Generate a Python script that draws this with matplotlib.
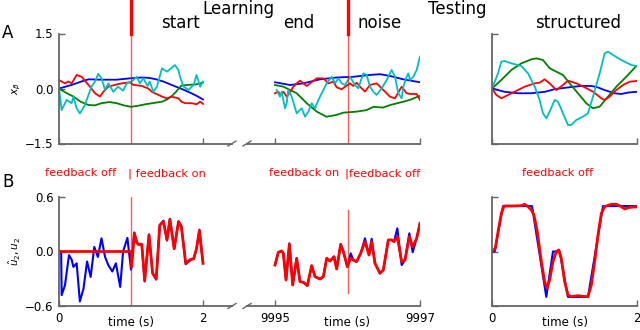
import numpy as np
import matplotlib
matplotlib.use("Agg")
import matplotlib.pyplot as plt
from matplotlib.lines import Line2D

plt.rcParams['font.family'] = ['DejaVu Sans']
plt.rcParams['mathtext.fontset'] = 'dejavusans'

# ---------------- DATA ----------------
# Panel A, left (learning start), time 0..2 s
tA1_blue = [0, 0.18, 0.31, 0.41, 0.6, 0.8, 1.0, 1.15, 1.25, 1.35, 1.45, 1.56, 1.65, 1.75, 1.85, 1.93, 2.0]
vA1_blue = [0, 0.10, 0.19, 0.25, 0.24, 0.24, 0.28, 0.30, 0.29, 0.25, 0.19, 0.10, 0.03, -0.05, -0.14, -0.22, -0.30]
tA1_green = [0, 0.1, 0.2, 0.3, 0.41, 0.5, 0.59, 0.7, 0.8, 0.9, 1.0, 1.1, 1.2, 1.33, 1.43, 1.5, 1.56, 1.63, 1.70, 1.8, 1.9, 2.0]
vA1_green = [0, -0.12, -0.22, -0.36, -0.45, -0.46, -0.40, -0.37, -0.40, -0.46, -0.50, -0.47, -0.43, -0.39, -0.36, -0.30, -0.22, -0.08, 0.08, 0.10, 0.11, 0.16]
tA1_red = [0, 0.083, 0.13, 0.176, 0.245, 0.315, 0.36, 0.43, 0.5, 0.57, 0.616, 0.685, 0.78, 0.87, 0.986, 1.03, 1.15,
           1.24, 1.29, 1.33, 1.43, 1.5, 1.56, 1.66, 1.70, 1.75, 1.84, 1.91, 1.96, 2.0]
vA1_red = [0.23, 0.14, 0.19, 0.14, 0.37, 0.32, 0.21, 0.05, -0.13, -0.22, -0.09, 0.05, 0.10, 0.14, 0.17, 0.10, 0.07,
           0.0, -0.09, -0.13, -0.22, -0.27, -0.22, -0.27, -0.36, -0.40, -0.40, -0.43, -0.36, -0.42]
tA1_cyan = [0, 0.037, 0.106, 0.176, 0.2, 0.245, 0.29, 0.36, 0.45, 0.5, 0.546, 0.59, 0.64, 0.685, 0.755, 0.82, 0.89,
            0.94, 1.01, 1.08, 1.125, 1.17, 1.23, 1.26, 1.31, 1.36, 1.43, 1.5, 1.54, 1.61, 1.66, 1.68, 1.73, 1.8,
            1.87, 1.91, 1.96, 2.0]
vA1_cyan = [0.0, -0.59, -0.31, -0.40, -0.22, -0.54, -0.68, -0.45, 0.05, 0.19, 0.40, 0.28, -0.04, 0.14, -0.09, 0.05,
            -0.06, 0.14, 0.19, 0.32, 0.14, 0.28, 0.07, 0.19, -0.09, 0.05, 0.55, 0.46, 0.52, 0.64, 0.50, 0.32, 0.05,
            -0.04, 0.10, 0.37, 0.05, 0.19]

# Panel A, middle (learning end), time 9995..9997 s
tA2_blue = [9995.0, 9995.21, 9995.39, 9995.62, 9995.85, 9996.08, 9996.31, 9996.45, 9996.59, 9996.77, 9997.0]
vA2_blue = [0.17, 0.095, 0.14, 0.25, 0.30, 0.32, 0.37, 0.39, 0.34, 0.25, 0.17]
tA2_green = [9995.0, 9995.115, 9995.3, 9995.437, 9995.575, 9995.71, 9995.85, 9995.94, 9996.13, 9996.26, 9996.36,
             9996.49, 9996.59, 9996.77, 9996.86, 9997.0]
vA2_green = [0.095, 0.05, -0.13, -0.40, -0.63, -0.77, -0.72, -0.66, -0.63, -0.59, -0.50, -0.52, -0.45, -0.36, -0.31, -0.20]
tA2_red = [9995.0, 9995.046, 9995.069, 9995.115, 9995.161, 9995.198, 9995.253, 9995.299, 9995.345, 9995.391,
           9995.437, 9995.483, 9995.575, 9995.667, 9995.736, 9995.805, 9995.851, 9995.92, 9995.966, 9996.034,
           9996.08, 9996.126, 9996.172, 9996.241, 9996.31, 9996.402, 9996.448, 9996.517, 9996.586, 9996.655,
           9996.747, 9996.816, 9996.862, 9996.954, 9997.0]
vA2_red = [-0.13, -0.086, -0.177, -0.086, -0.223, -0.13, 0.05, 0.14, 0.213, 0.14, 0.068, 0.14, 0.277, 0.277, 0.14,
           0.186, 0.032, -0.023, 0.05, 0.14, 0.068, 0.159, 0.05, -0.086, 0.095, 0.14, 0.05, -0.086, -0.223, -0.268,
           0.05, -0.13, -0.15, -0.15, -0.313]
tA2_cyan = [9995.023, 9995.069, 9995.092, 9995.138, 9995.161, 9995.184, 9995.23, 9995.299, 9995.368, 9995.414,
            9995.46, 9995.506, 9995.552, 9995.598, 9995.667, 9995.713, 9995.782, 9995.828, 9995.874, 9995.92,
            9995.966, 9996.034, 9996.103, 9996.149, 9996.172, 9996.218, 9996.264, 9996.31, 9996.356, 9996.402,
            9996.471, 9996.54, 9996.609, 9996.655, 9996.701, 9996.747, 9996.77, 9996.816, 9996.839, 9996.862,
            9996.908, 9996.954, 9997.0]
vA2_cyan = [-0.041, -0.223, -0.086, -0.54, -0.404, -0.041, -0.223, -0.677, -0.54, -0.767, -0.631, -0.404, -0.54,
            -0.313, -0.041, 0.141, 0.322, 0.141, 0.277, 0.141, 0.095, 0.322, 0.095, 0.005, 0.141, 0.413, 0.368,
            0.05, -0.086, -0.177, 0.005, 0.232, 0.504, 0.322, -0.132, -0.268, 0.05, 0.322, 0.413, 0.232, 0.322,
            0.504, 0.867]

# Panel A, right (testing, structured), time 0..2 s
tA3_blue = [0, 0.175, 0.36, 0.54, 0.73, 0.86, 1.05, 1.23, 1.37, 1.46, 1.55, 1.69, 1.78, 1.88, 2.0]
vA3_blue = [0, -0.09, -0.13, -0.13, -0.09, -0.02, 0.03, 0.07, 0.07, 0.03, -0.04, -0.13, -0.15, -0.11, -0.09]
tA3_green = [0, 0.129, 0.267, 0.405, 0.543, 0.611, 0.703, 0.795, 0.887, 0.979, 1.071, 1.186, 1.301, 1.393, 1.485,
             1.6, 1.715, 1.853, 1.991]
vA3_green = [0, 0.232, 0.504, 0.686, 0.795, 0.822, 0.777, 0.554, 0.459, 0.368, 0.141, -0.132, -0.404, -0.54,
             -0.495, -0.222, 0.05, 0.322, 0.613]
tA3_cyan = [0, 0.083, 0.129, 0.175, 0.267, 0.405, 0.497, 0.589, 0.657, 0.703, 0.749, 0.795, 0.864, 0.91, 0.979,
            1.048, 1.094, 1.163, 1.255, 1.324, 1.393, 1.485, 1.554, 1.6, 1.669, 1.784, 1.922, 1.991]
vA3_cyan = [0, 0.413, 0.731, 0.749, 0.686, 0.613, 0.413, 0.05, -0.313, -0.677, -0.812, -0.631, -0.313, -0.359,
            -0.677, -0.995, -0.995, -0.858, -0.767, -0.677, -0.222, 0.413, 0.958, 1.004, 0.913, 0.777, 0.64, 0.613]
tA3_red = [0, 0.06, 0.129, 0.221, 0.359, 0.451, 0.589, 0.657, 0.726, 0.795, 0.887, 0.979, 1.048, 1.163, 1.278,
           1.393, 1.508, 1.554, 1.623, 1.715, 1.807, 1.899, 1.991]
vA3_red = [0, -0.177, -0.268, -0.177, -0.041, 0.05, 0.141, 0.159, 0.25, 0.141, -0.041, 0.095, 0.214, 0.141, 0.032,
           -0.086, -0.268, -0.313, -0.222, -0.041, 0.095, 0.186, 0.204]

# Panel B, left: readout (blue) and feedback output (red)
tB1_blue = [0.03, 0.037, 0.083, 0.139, 0.176, 0.2, 0.245, 0.29, 0.34, 0.39, 0.44, 0.49, 0.54, 0.59, 0.64, 0.685,
            0.74, 0.79, 0.85, 0.89, 0.95, 1.0, 1.046, 1.08, 1.10, 1.15, 1.19, 1.25, 1.30, 1.35, 1.40, 1.45, 1.50,
            1.54, 1.60, 1.66, 1.70, 1.76, 1.82, 1.87, 1.91, 1.95, 2.0]
vB1_blue = [0, -0.48, -0.37, -0.04, -0.09, -0.17, -0.13, -0.55, -0.41, -0.11, -0.28, 0.05, -0.06, 0.145, -0.06,
            -0.15, -0.22, -0.13, -0.39, 0.0, 0.15, -0.2, 0.21, 0.1, 0.08, 0.07, -0.33, 0.19, -0.24, -0.31, 0.29,
            0.34, 0.12, 0.36, 0.03, 0.33, 0.28, -0.14, -0.10, -0.08, 0.03, 0.24, -0.13]
tB1_red = [0, 1.0, 1.01, 1.046, 1.08, 1.10, 1.15, 1.19, 1.25, 1.30, 1.35, 1.40, 1.45, 1.50, 1.54, 1.60, 1.66, 1.70,
           1.76, 1.82, 1.87, 1.91, 1.95, 2.0]
vB1_red = [0, 0, -0.17, 0.2, 0.1, 0.08, 0.08, -0.32, 0.18, -0.24, -0.30, 0.29, 0.33, 0.13, 0.35, 0.03, 0.33, 0.27,
           -0.13, -0.09, -0.08, 0.03, 0.23, -0.13]

# Panel B, middle
tB2 = [9995.0, 9995.046, 9995.092, 9995.115, 9995.152, 9995.198, 9995.244, 9995.299, 9995.345, 9995.391, 9995.446,
       9995.506, 9995.552, 9995.621, 9995.667, 9995.713, 9995.759, 9995.814, 9995.851, 9995.906, 9995.943,
       9995.998, 9996.044, 9996.08, 9996.126, 9996.182, 9996.241, 9996.297, 9996.333, 9996.379, 9996.448,
       9996.494, 9996.563, 9996.609, 9996.641, 9996.687, 9996.747, 9996.793, 9996.853, 9996.899, 9996.954, 9997.0]
vB2_red = [-0.149, -0.009, 0.006, -0.02, -0.314, 0.079, -0.369, -0.075, -0.332, -0.339, -0.376, -0.156, -0.277,
           -0.303, -0.277, -0.075, -0.105, -0.057, -0.193, 0.079, -0.002, -0.167, -0.075, -0.094, -0.112, -0.02,
           0.108, -0.039, 0.108, -0.13, -0.24, -0.204, 0.127, 0.127, 0.108, 0.163, -0.112, -0.094, 0.163, 0.053,
           0.145, 0.31]
vB2_blue = [-0.149, -0.009, 0.006, -0.02, -0.314, 0.09, -0.369, -0.075, -0.332, -0.339, -0.376, -0.156, -0.277,
            -0.303, -0.277, -0.075, -0.105, -0.057, -0.193, 0.079, -0.002, -0.167, -0.02, -0.094, -0.112, -0.02,
            0.145, -0.039, 0.14, -0.13, -0.24, -0.204, 0.127, 0.127, 0.108, 0.255, -0.149, -0.094, 0.2, -0.009,
            0.145, 0.31]

# Panel B, right (structured target)
tB3_blue = [0, 0.037, 0.152, 0.552, 0.749, 0.841, 0.933, 1.048, 1.324, 1.531, 2.0]
vB3_blue = [0, 0, 0.5, 0.5, -0.5, 0, 0, -0.5, -0.5, 0.5, 0.5]
tB3_red = [0, 0.046, 0.083, 0.129, 0.166, 0.267, 0.405, 0.451, 0.497, 0.543, 0.579, 0.625, 0.681, 0.726, 0.759,
           0.795, 0.841, 0.887, 0.92, 0.956, 1.002, 1.048, 1.094, 1.186, 1.255, 1.324, 1.37, 1.416, 1.462, 1.508,
           1.554, 1.646, 1.715, 1.784, 1.83, 1.876, 1.945, 2.0]
vB3_red = [0, 0.035, 0.217, 0.42, 0.501, 0.501, 0.505, 0.52, 0.494, 0.457, 0.402, 0.217, -0.112, -0.332, -0.404,
           -0.314, -0.112, -0.002, 0.017, -0.075, -0.332, -0.479, -0.497, -0.486, -0.494, -0.497, -0.369, -0.112,
           0.182, 0.42, 0.494, 0.52, 0.52, 0.494, 0.468, 0.482, 0.49, 0.49]

# Ticks / labels
yticks_A = [-1.5, 0.0, 1.5]
yticks_B = [-0.6, 0.0, 0.6]
xticks_left = [0, 2]
xticks_mid = [9995, 9997]
xticks_right = [0, 2]

# ---------------- FIGURE ----------------
W, H = 640, 330
fig = plt.figure(figsize=(6.4, 3.3), dpi=100)


def rect(x0, x1, ytop, ybot):
    return [x0 / W, 1 - ybot / H, (x1 - x0) / W, (ybot - ytop) / H]


def fx(x):
    return x / W


def fy(y):
    return 1 - y / H


SPC = '0.4'


def style(ax, left=True):
    for s in ['top', 'right']:
        ax.spines[s].set_visible(False)
    ax.spines['bottom'].set_color(SPC)
    ax.spines['bottom'].set_linewidth(1.3)
    if left:
        ax.spines['left'].set_color(SPC)
        ax.spines['left'].set_linewidth(1.3)
    else:
        ax.spines['left'].set_visible(False)
        ax.tick_params(axis='y', left=False, labelleft=False)
    ax.tick_params(direction='in', length=4, width=1, color=SPC, labelsize=8.5, pad=4)
    ax.patch.set_alpha(0)


xl0, xl1 = 59, 232
xm0, xm1 = 247, 420
xr0, xr1 = 492, 637
yA0, yA1 = 33.5, 143.5
yB0, yB1 = 197, 306

axA1 = fig.add_axes(rect(xl0, xl1, yA0, yA1))
axA2 = fig.add_axes(rect(xm0, xm1, yA0, yA1))
axA3 = fig.add_axes(rect(xr0, xr1, yA0, yA1))
axB1 = fig.add_axes(rect(xl0, xl1, yB0, yB1))
axB2 = fig.add_axes(rect(xm0, xm1, yB0, yB1))
axB3 = fig.add_axes(rect(xr0, xr1, yB0, yB1))

lwA = 1.3
# A left
axA1.plot(tA1_blue, vA1_blue, color='b', lw=lwA)
axA1.plot(tA1_green, vA1_green, color='g', lw=lwA)
axA1.plot(tA1_red, vA1_red, color='r', lw=lwA)
axA1.plot(tA1_cyan, vA1_cyan, color='c', lw=lwA)
# A middle
axA2.plot(tA2_blue, vA2_blue, color='b', lw=lwA)
axA2.plot(tA2_green, vA2_green, color='g', lw=lwA)
axA2.plot(tA2_red, vA2_red, color='r', lw=lwA)
axA2.plot(tA2_cyan, vA2_cyan, color='c', lw=lwA)
# A right
axA3.plot(tA3_blue, vA3_blue, color='b', lw=lwA)
axA3.plot(tA3_green, vA3_green, color='g', lw=lwA)
axA3.plot(tA3_red, vA3_red, color='r', lw=lwA)
axA3.plot(tA3_cyan, vA3_cyan, color='c', lw=lwA)

# B
axB1.plot(tB1_blue, vB1_blue, color='b', lw=1.5)
axB1.plot(tB1_red, vB1_red, color='r', lw=2)
axB2.plot(tB2, vB2_blue, color='b', lw=1.5)
axB2.plot(tB2, vB2_red, color='r', lw=2)
axB3.plot(tB3_blue, vB3_blue, color='b', lw=1.5)
axB3.plot(tB3_red, vB3_red, color='r', lw=2)

for ax in (axA1, axA2, axA3):
    ax.set_ylim(-1.5, 1.5)
for ax in (axB1, axB2, axB3):
    ax.set_ylim(-0.6, 0.6)

left_xlim = (0, (xl1 - xl0) / 72.0)
mid_xlim = (9997 - (xm1 - xm0) / 72.5, 9997)
for ax in (axA1, axB1):
    ax.set_xlim(*left_xlim)
    style(ax)
    ax.set_xticks(xticks_left)
for ax in (axA2, axB2):
    ax.set_xlim(*mid_xlim)
    style(ax, left=False)
    ax.set_xticks(xticks_mid)
for ax in (axA3, axB3):
    ax.set_xlim(0, 2)
    style(ax)
    ax.set_xticks(xticks_right)
    ax.tick_params(axis='y', labelleft=False)

axA1.set_yticks(yticks_A)
axA3.set_yticks(yticks_A)
axB1.set_yticks(yticks_B)
axB3.set_yticks(yticks_B)
axA1.set_yticklabels(['\u22121.5', '0.0', '1.5'])
axB1.set_yticklabels(['\u22120.6', '0.0', '0.6'])
for ax in (axA1, axA2, axA3):
    ax.tick_params(axis='x', labelbottom=False)
axB2.set_xticklabels(['9995', '9997'])

# y labels
axA1.set_ylabel(r'$x_\beta$', fontsize=7.5)
axA1.yaxis.set_label_coords((23 - xl0) / (xl1 - xl0), 0.5)
axB1.set_ylabel(r'$\hat{u}_2, u_2$', fontsize=7.5)
axB1.yaxis.set_label_coords((23 - xl0) / (xl1 - xl0), 0.5)

# vertical red markers
thin = dict(color='red', alpha=0.65, lw=1.0)
axA1.axvline(1.0, **thin)
axA2.axvline(9996, **thin)
axB1.axvline(1.0, **thin)
axB2.axvline(9996, ymin=(yB1 - 293) / (yB1 - yB0), ymax=(yB1 - 210) / (yB1 - yB0), **thin)
axA1.axvline(1.0, ymin=1.0, ymax=1 + yA0 / (yA1 - yA0), color='red', lw=2.4, clip_on=False)
axA2.axvline(9996, ymin=1.0, ymax=1 + yA0 / (yA1 - yA0), color='red', lw=2.4, clip_on=False)

# axis break marks
for yb in (yA1, yB1):
    for xa, xb in ((228, 236), (243, 251)):
        fig.add_artist(Line2D([fx(xa), fx(xb)], [fy(yb + 2.5), fy(yb - 2.5)], color=SPC, lw=1.0))

# titles
tkw = dict(fontsize=12, va='baseline', ha='center')
fig.text(fx(180), fy(27.5), 'start', **tkw)
fig.text(fx(238), fy(14), 'Learning', **tkw)
fig.text(fx(299), fy(27.5), 'end', **tkw)
fig.text(fx(380), fy(27.5), 'noise', **tkw)
fig.text(fx(457), fy(14), 'Testing', **tkw)
fig.text(fx(578), fy(27.5), 'structured', **tkw)
fig.text(fx(2), fy(38), 'A', fontsize=12, va='baseline', ha='left')
fig.text(fx(2), fy(187), 'B', fontsize=12, va='baseline', ha='left')

# feedback annotations
rkw = dict(fontsize=8.2, color='red', va='baseline', ha='left')
fig.text(fx(45), fy(176.5), 'feedback off', **rkw)
fig.text(fx(128), fy(176.5), '| feedback on', **rkw)
fig.text(fx(269), fy(176.5), 'feedback on', **rkw)
fig.text(fx(345), fy(176.5), '|feedback off', **rkw)
fig.text(fx(522), fy(176.5), 'feedback off', **rkw)

# time labels
for xc in (131, 347, 565):
    fig.text(fx(xc), fy(326), 'time (s)', fontsize=8.5, va='baseline', ha='center')

fig.savefig('out.png', dpi=100)
